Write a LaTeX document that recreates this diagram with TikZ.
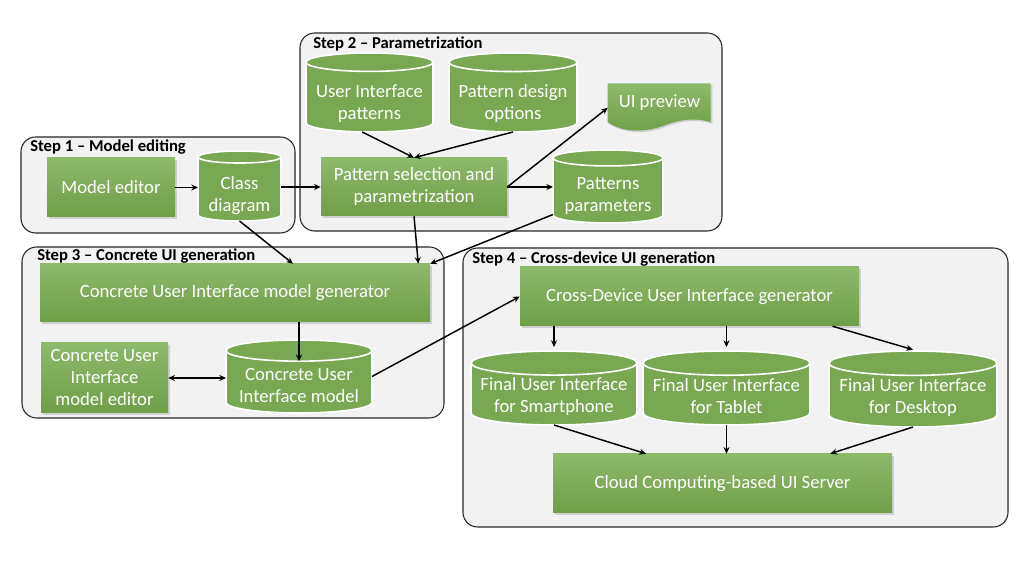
\documentclass[tikz,border=0pt]{standalone}
\usepackage{fontspec}
\setmainfont{Carlito}
\usetikzlibrary{shadows,arrows.meta,backgrounds}

\definecolor{stepbg}{HTML}{F2F2F2}
\definecolor{boxtop}{HTML}{8DB96B}
\definecolor{boxbot}{HTML}{6E9F47}
\definecolor{dbgreen}{HTML}{78A952}

% upright cylinder with a flat top cap, sized like a rectangle
\makeatletter
\pgfdeclareshape{drum}{%
  \inheritsavedanchors[from=rectangle]
  \inheritanchorborder[from=rectangle]
  \inheritanchor[from=rectangle]{center}
  \inheritanchor[from=rectangle]{north}
  \inheritanchor[from=rectangle]{south}
  \inheritanchor[from=rectangle]{east}
  \inheritanchor[from=rectangle]{west}
  \inheritanchor[from=rectangle]{north east}
  \inheritanchor[from=rectangle]{north west}
  \inheritanchor[from=rectangle]{south east}
  \inheritanchor[from=rectangle]{south west}
  \backgroundpath{%
    \southwest \edef\drumxa{\the\pgf@x}\edef\drumya{\the\pgf@y}%
    \northeast \edef\drumxb{\the\pgf@x}\edef\drumyb{\the\pgf@y}%
    \pgfmathsetlengthmacro\drumrx{(\drumxb-\drumxa)/2}%
    \pgfmathsetlengthmacro\drumry{0.145*\drumrx}%
    \pgfmathsetlengthmacro\drumtop{\drumyb-\drumry}%
    \pgfmathsetlengthmacro\drumbot{\drumya+\drumry}%
    \pgfpathmoveto{\pgfpoint{\drumxa}{\drumtop}}%
    \pgfpathlineto{\pgfpoint{\drumxa}{\drumbot}}%
    \pgfpatharc{180}{360}{\drumrx and \drumry}%
    \pgfpathlineto{\pgfpoint{\drumxb}{\drumtop}}%
    \pgfpatharc{0}{180}{\drumrx and \drumry}%
    \pgfpathclose
    \pgfpathmoveto{\pgfpoint{\drumxa}{\drumtop}}%
    \pgfpatharc{180}{360}{\drumrx and \drumry}%
  }%
}
\makeatother

% pushes the text of a drum below its top cap
\newcommand{\captop}[1][22pt]{\rule{0pt}{#1}}

\tikzset{
  stepframe/.style={draw=black!85, line width=0.8pt, fill=stepbg, rounded corners=11pt},
  steptitle/.style={anchor=west, inner sep=0pt, font=\fontsize{12.5}{14}\selectfont\bfseries},
  procshade/.style={top color=boxtop, bottom color=boxbot,
    drop shadow={opacity=0.3, shadow xshift=1.2pt, shadow yshift=-1.2pt}},
  procbox/.style={rectangle, procshade, text=white, align=center, inner sep=0pt,
    font=\fontsize{14}{16.5}\selectfont},
  store/.style={drum, draw=white, line width=1.2pt, fill=dbgreen, text=white,
    align=center, inner sep=0pt, outer sep=0pt, font=\fontsize{14}{16.5}\selectfont},
  flow/.style={-{Stealth[length=5pt,width=4.5pt]}, line width=1.1pt},
  twoway/.style={{Stealth[length=5pt,width=4.5pt]}-{Stealth[length=5pt,width=4.5pt]}, line width=1.1pt}
}

\begin{document}
\begin{tikzpicture}[x=0.75pt, y=-0.75pt]
  \useasboundingbox (0,0) rectangle (1032,580);

  % step 1
  \node[procbox, minimum width=96pt, minimum height=44.25pt] (medit) at (111,187.5) {Model editor};
  \node[store, minimum width=62.25pt, minimum height=52.5pt] (classd) at (239.5,186) {\captop[24pt]Class\\diagram};

  % step 2
  \node[store, minimum width=95.25pt, minimum height=59.25pt] (uipat) at (369.5,92.5) {\captop[26pt]User Interface\\patterns};
  \node[store, minimum width=96pt, minimum height=59.25pt] (pdopt) at (513,92.5) {\captop[26pt]Pattern design\\options};
  \node[text=white, inner sep=0pt, minimum width=77.25pt, minimum height=29.25pt,
        font=\fontsize{14}{16.5}\selectfont] (uiprev) at (659.5,102.5) {UI preview};
  \node[procbox, minimum width=139.5pt, minimum height=43.5pt] (psel) at (414,187) {Pattern selection and\\parametrization};
  \node[store, minimum width=82.5pt, minimum height=54.75pt] (ppar) at (608,186.5) {\captop[24pt]Patterns\\parameters};

  % step 3
  \node[procbox, minimum width=292.5pt, minimum height=43.5pt] (cgen) at (235,293) {Concrete User Interface model generator};
  \node[procbox, minimum width=95.25pt, minimum height=52.5pt] (cedit) at (104.5,378) {Concrete User\\Interface\\model editor};
  \node[store, minimum width=109.5pt, minimum height=54.75pt] (cmodel) at (299,376.5) {\captop Concrete User\\Interface model};

  % step 4
  \node[procbox, minimum width=254.25pt, minimum height=44.25pt] (xgen) at (689.5,296.5) {Cross-Device User Interface generator};
  \node[store, minimum width=124.5pt, minimum height=55.5pt] (fphone) at (554,388) {\captop Final User Interface\\for Smartphone};
  \node[store, minimum width=125.25pt, minimum height=55.5pt] (ftablet) at (726.5,388) {\captop Final User Interface\\for Tablet};
  \node[store, minimum width=126pt, minimum height=57pt] (fdesk) at (913,389) {\captop Final User Interface\\for Desktop};
  \node[procbox, minimum width=254.25pt, minimum height=44.25pt] (cloud) at (722.5,483.5) {Cloud Computing-based UI Server};

  % titles
  \node[steptitle] (t1) at (30,147) {Step 1 – Model editing};
  \node[steptitle] (t2) at (313,44) {Step 2 – Parametrization};
  \node[steptitle] (t3) at (37,256) {Step 3 – Concrete UI generation};
  \node[steptitle] (t4) at (472,259) {Step 4 – Cross-device UI generation};

  % arrows
  \draw[flow] (medit.east) -- (medit.east -| classd.west);
  \draw[flow] (psel.west -| classd.east) -- (psel.west);
  \draw[flow] (classd.south) -- ([xshift=43.5pt]cgen.north);
  \draw[flow] ([xshift=-5.5pt]uipat.south) -- (psel.north);
  \draw[flow] (pdopt.south) -- (psel.north);
  \draw[flow] (psel.east) -- ([yshift=-4pt]uiprev.west);
  \draw[flow] (psel.east) -- (psel.east -| ppar.west);
  \draw[flow] (psel.south) -- ([xshift=-9pt]cgen.north east);
  \draw[flow] (ppar.207) -- (cgen.north east);
  \draw[flow] (cgen.south -| cmodel.north) -- ([yshift=-16pt]cmodel.north);
  \draw[twoway] (cedit.east) -- (cedit.east -| cmodel.west);
  \draw[flow] (cmodel.east) -- (xgen.west);
  \draw[flow] (xgen.south -| fphone.north) -- ([yshift=3pt]fphone.north);
  \draw[flow] (xgen.south -| ftablet.north) -- ([yshift=3pt]ftablet.north);
  \draw[flow] ([xshift=-20pt]xgen.south east) -- ([yshift=1pt]fdesk.north);
  \draw[flow] (fphone.south) -- ([xshift=70pt]cloud.north west);
  \draw[flow] (ftablet.south) -- (ftablet.south |- cloud.north);
  \draw[flow] (fdesk.south) -- ([xshift=-46.5pt]cloud.north east);

  \begin{scope}[on background layer]
    \draw[stepframe] (21,137) rectangle (295,233);
    \draw[stepframe] (300,33) rectangle (722,231);
    \draw[stepframe] (22,247) rectangle (444,418);
    \draw[stepframe] (463,248) rectangle (1008,527);
    % wavy preview sheet
    \begin{scope}[shift={(uiprev.south west)}]
      \path[procshade] (0,0) -- (0,-39) -- (103,-39) -- (103,0)
        .. controls (92,-4) and (74,-4) .. (57,3)
        .. controls (42,9) and (17,12) .. (0,0) -- cycle;
    \end{scope}
  \end{scope}
\end{tikzpicture}
\end{document}
